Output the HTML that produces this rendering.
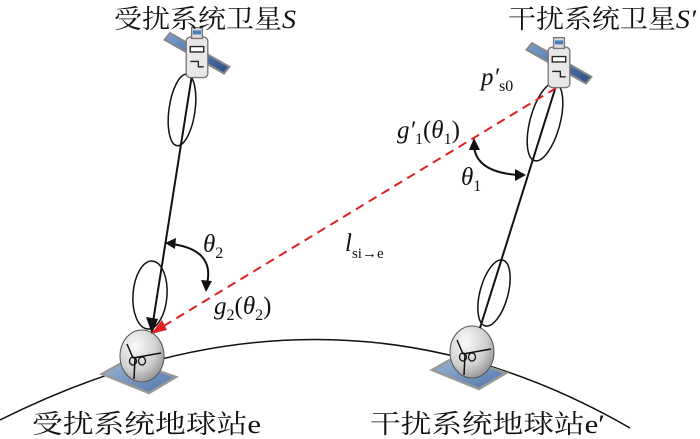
<!DOCTYPE html>
<html><head><meta charset="utf-8"><style>
html,body{margin:0;padding:0;background:#fff;}
svg{display:block;}
text{font-family:"Liberation Serif","Noto Serif CJK SC",serif;fill:#111;}
.cjk{font-family:"Liberation Serif","Noto Serif CJK SC",serif;}
</style></head><body>
<svg width="700" height="439" viewBox="0 0 700 439" xmlns="http://www.w3.org/2000/svg">
<defs>
<radialGradient id="dish" cx="0.35" cy="0.3" r="0.8">
<stop offset="0" stop-color="#fafafa"/><stop offset="0.6" stop-color="#cfcfcf"/><stop offset="1" stop-color="#8a8a8a"/>
</radialGradient>
<linearGradient id="plate" x1="0" y1="0" x2="1" y2="1">
<stop offset="0" stop-color="#9fb8d8"/><stop offset="1" stop-color="#4f74a8"/>
</linearGradient>
<linearGradient id="panel" x1="0" y1="0" x2="1" y2="1">
<stop offset="0" stop-color="#7a9fd0"/><stop offset="1" stop-color="#2b4f86"/>
</linearGradient>
<g id="sat">
<polygon points="-24,-12 -20,-17 24,8 20,13" fill="url(#panel)" stroke="#888" stroke-width="1.5"/>
<rect x="-8" y="-14" width="16" height="30" rx="3" fill="#e8e8e8" stroke="#777"/>
<rect x="-4" y="-21" width="8" height="8" fill="#ddd" stroke="#777"/>
<rect x="-5" y="-7" width="10" height="4" fill="#fff" stroke="#222"/>
<path d="M-5,4 h6 v4 h4" fill="none" stroke="#222"/>
<rect x="-3" y="-19" width="6" height="3" fill="#4a7cc0"/>
</g>
<g id="station">
<polygon points="-40,18 -15,4 34,21 7,37" fill="url(#plate)" stroke="#999" stroke-width="2.5"/>
<ellipse cx="0" cy="0" rx="22" ry="26" fill="url(#dish)" stroke="#555"/>
<path d="M-15,-12 L-9,2 M-9,2 L19,-3 M-7,2 L-8,23" stroke="#111" stroke-width="1.5" fill="none"/>
<ellipse cx="-9" cy="5" rx="3.5" ry="4" fill="none" stroke="#111" stroke-width="1.3"/>
<ellipse cx="0" cy="5" rx="3.5" ry="4" fill="none" stroke="#111" stroke-width="1.3"/>
</g>
</defs>

<path d="M0,420 Q330,255 630,428" fill="none" stroke="#111" stroke-width="1.5"/>

<use href="#station" x="142" y="356"/>
<use href="#station" x="472" y="352"/>

<line x1="194" y1="62" x2="153" y2="322" stroke="#111" stroke-width="2"/>
<polygon points="152,334 146,317 158,319" fill="#111"/>
<ellipse cx="182" cy="110" rx="13" ry="36" transform="rotate(8 182 110)" fill="none" stroke="#111" stroke-width="1.5"/>
<ellipse cx="150" cy="295" rx="17" ry="34" transform="rotate(4 150 295)" fill="none" stroke="#111" stroke-width="1.5"/>

<line x1="556" y1="86" x2="480" y2="328" stroke="#111" stroke-width="2"/>
<ellipse cx="545" cy="122" rx="15" ry="40" transform="rotate(15 545 122)" fill="none" stroke="#111" stroke-width="1.5"/>
<ellipse cx="494" cy="293" rx="14" ry="34" transform="rotate(15 494 293)" fill="none" stroke="#111" stroke-width="1.5"/>

<line x1="556" y1="88" x2="162" y2="327" stroke="#e02020" stroke-width="2" stroke-dasharray="9,6"/>
<polygon points="151,334 162,320 167,330" fill="#e02020"/>

<g transform="translate(197,56) scale(1.35)"><use href="#sat"/></g>
<g transform="translate(559,66) scale(1.35)"><use href="#sat"/></g>

<path d="M172,244 Q215,250 207,284" fill="none" stroke="#111" stroke-width="2"/>
<polygon points="165,243 176,238 175,249" fill="#111"/>
<polygon points="206,292 201,280 212,281" fill="#111"/>
<path d="M474,146 Q476,172 518,175" fill="none" stroke="#111" stroke-width="2"/>
<polygon points="474,138 469,150 480,150" fill="#111"/>
<polygon points="526,175 515,169 515,181" fill="#111"/>

<text class="cjk" x="114" y="28" font-size="26" textLength="182" lengthAdjust="spacingAndGlyphs">受扰系统卫星<tspan font-style="italic">S</tspan></text>
<text class="cjk" x="508" y="28" font-size="26" textLength="188" lengthAdjust="spacingAndGlyphs">干扰系统卫星<tspan font-style="italic">S′</tspan></text>
<text class="cjk" x="32" y="433" font-size="26" textLength="229" lengthAdjust="spacingAndGlyphs">受扰系统地球站e</text>
<text class="cjk" x="370" y="433" font-size="26" textLength="235" lengthAdjust="spacingAndGlyphs">干扰系统地球站e′</text>

<text x="203" y="252" font-size="25" font-style="italic">θ<tspan font-style="normal" font-size="16" dy="6">2</tspan></text>
<text x="214" y="314" font-size="25" font-style="italic">g<tspan font-style="normal" font-size="16" dy="6">2</tspan><tspan font-style="normal" dy="-6">(</tspan>θ<tspan font-style="normal" font-size="16" dy="6">2</tspan><tspan font-style="normal" dy="-6">)</tspan></text>
<text x="345" y="251" font-size="25" font-style="italic">l<tspan font-style="normal" font-size="15" dy="7">si→e</tspan></text>
<text x="397" y="138" font-size="25" font-style="italic">g′<tspan font-style="normal" font-size="16" dy="6">1</tspan><tspan font-style="normal" dy="-6">(</tspan>θ<tspan font-style="normal" font-size="16" dy="6">1</tspan><tspan font-style="normal" dy="-6">)</tspan></text>
<text x="461" y="185" font-size="25" font-style="italic">θ<tspan font-style="normal" font-size="16" dy="6">1</tspan></text>
<text x="481" y="85" font-size="25" font-style="italic">p′<tspan font-style="normal" font-size="16" dy="6">s0</tspan></text>
</svg>
</body></html>
